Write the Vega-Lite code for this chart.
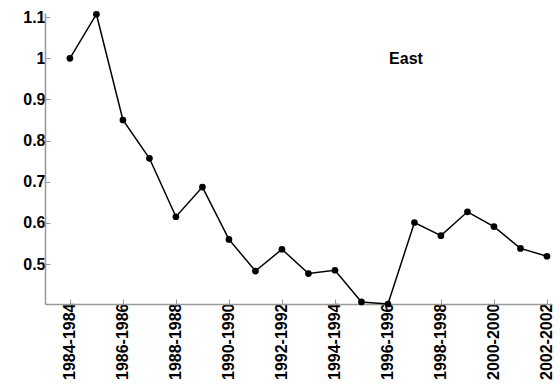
{
  "$schema": "https://vega.github.io/schema/vega-lite/v6.json",
  "autosize": "none",
  "width": 507,
  "height": 291,
  "padding": {"left": 45, "top": 13, "right": 8, "bottom": 84},
  "background": "white",
  "config": {"view": {"stroke": null}, "font": "Liberation Sans"},
  "datasets": {
    "series": [
      {"year": 1984, "value": 1.0},
      {"year": 1985, "value": 1.107},
      {"year": 1986, "value": 0.85},
      {"year": 1987, "value": 0.757},
      {"year": 1988, "value": 0.615},
      {"year": 1989, "value": 0.687},
      {"year": 1990, "value": 0.56},
      {"year": 1991, "value": 0.483},
      {"year": 1992, "value": 0.536},
      {"year": 1993, "value": 0.477},
      {"year": 1994, "value": 0.485},
      {"year": 1995, "value": 0.408},
      {"year": 1996, "value": 0.403},
      {"year": 1997, "value": 0.601},
      {"year": 1998, "value": 0.569},
      {"year": 1999, "value": 0.627},
      {"year": 2000, "value": 0.591},
      {"year": 2001, "value": 0.538},
      {"year": 2002, "value": 0.519}
    ],
    "label": [{"year": 1996.68, "value": 0.999, "text": "East"}]
  },
  "encoding": {
    "x": {
      "field": "year", "type": "quantitative",
      "scale": {"domain": [1983.06, 2002.19], "nice": false, "zero": false},
      "axis": {
        "title": null, "grid": false,
        "values": [1984, 1986, 1988, 1990, 1992, 1994, 1996, 1998, 2000, 2002],
        "labelExpr": "datum.value + '-' + datum.value",
        "labelAngle": -90, "labelFontSize": 16, "labelFontWeight": "bold", "labelColor": "black",
        "labelPadding": 4, "tickSize": -5, "tickColor": "#999", "domainColor": "#999", "domainWidth": 1.5,
        "labelFlush": false, "labelOverlap": false
      }
    },
    "y": {
      "field": "value", "type": "quantitative",
      "scale": {"domain": [0.403, 1.11], "nice": false, "zero": false},
      "axis": {
        "title": null, "grid": false,
        "values": [0.5, 0.6, 0.7, 0.8, 0.9, 1.0, 1.1],
        "format": ".2~f",
        "labelFontSize": 16, "labelFontWeight": "bold", "labelColor": "black",
        "labelPadding": 5, "tickSize": -5, "tickColor": "#999", "domainColor": "#999", "domainWidth": 1.5,
        "labelFlush": false, "labelOverlap": false
      }
    }
  },
  "layer": [
    {"data": {"name": "series"}, "mark": {"type": "line", "color": "black", "strokeWidth": 1.5}},
    {"data": {"name": "series"}, "mark": {"type": "point", "filled": true, "color": "black", "size": 45, "opacity": 1}},
    {
      "data": {"name": "label"},
      "mark": {"type": "text", "fontSize": 16, "fontWeight": "bold", "align": "center", "baseline": "middle", "color": "black"},
      "encoding": {"text": {"field": "text"}}
    }
  ]
}
